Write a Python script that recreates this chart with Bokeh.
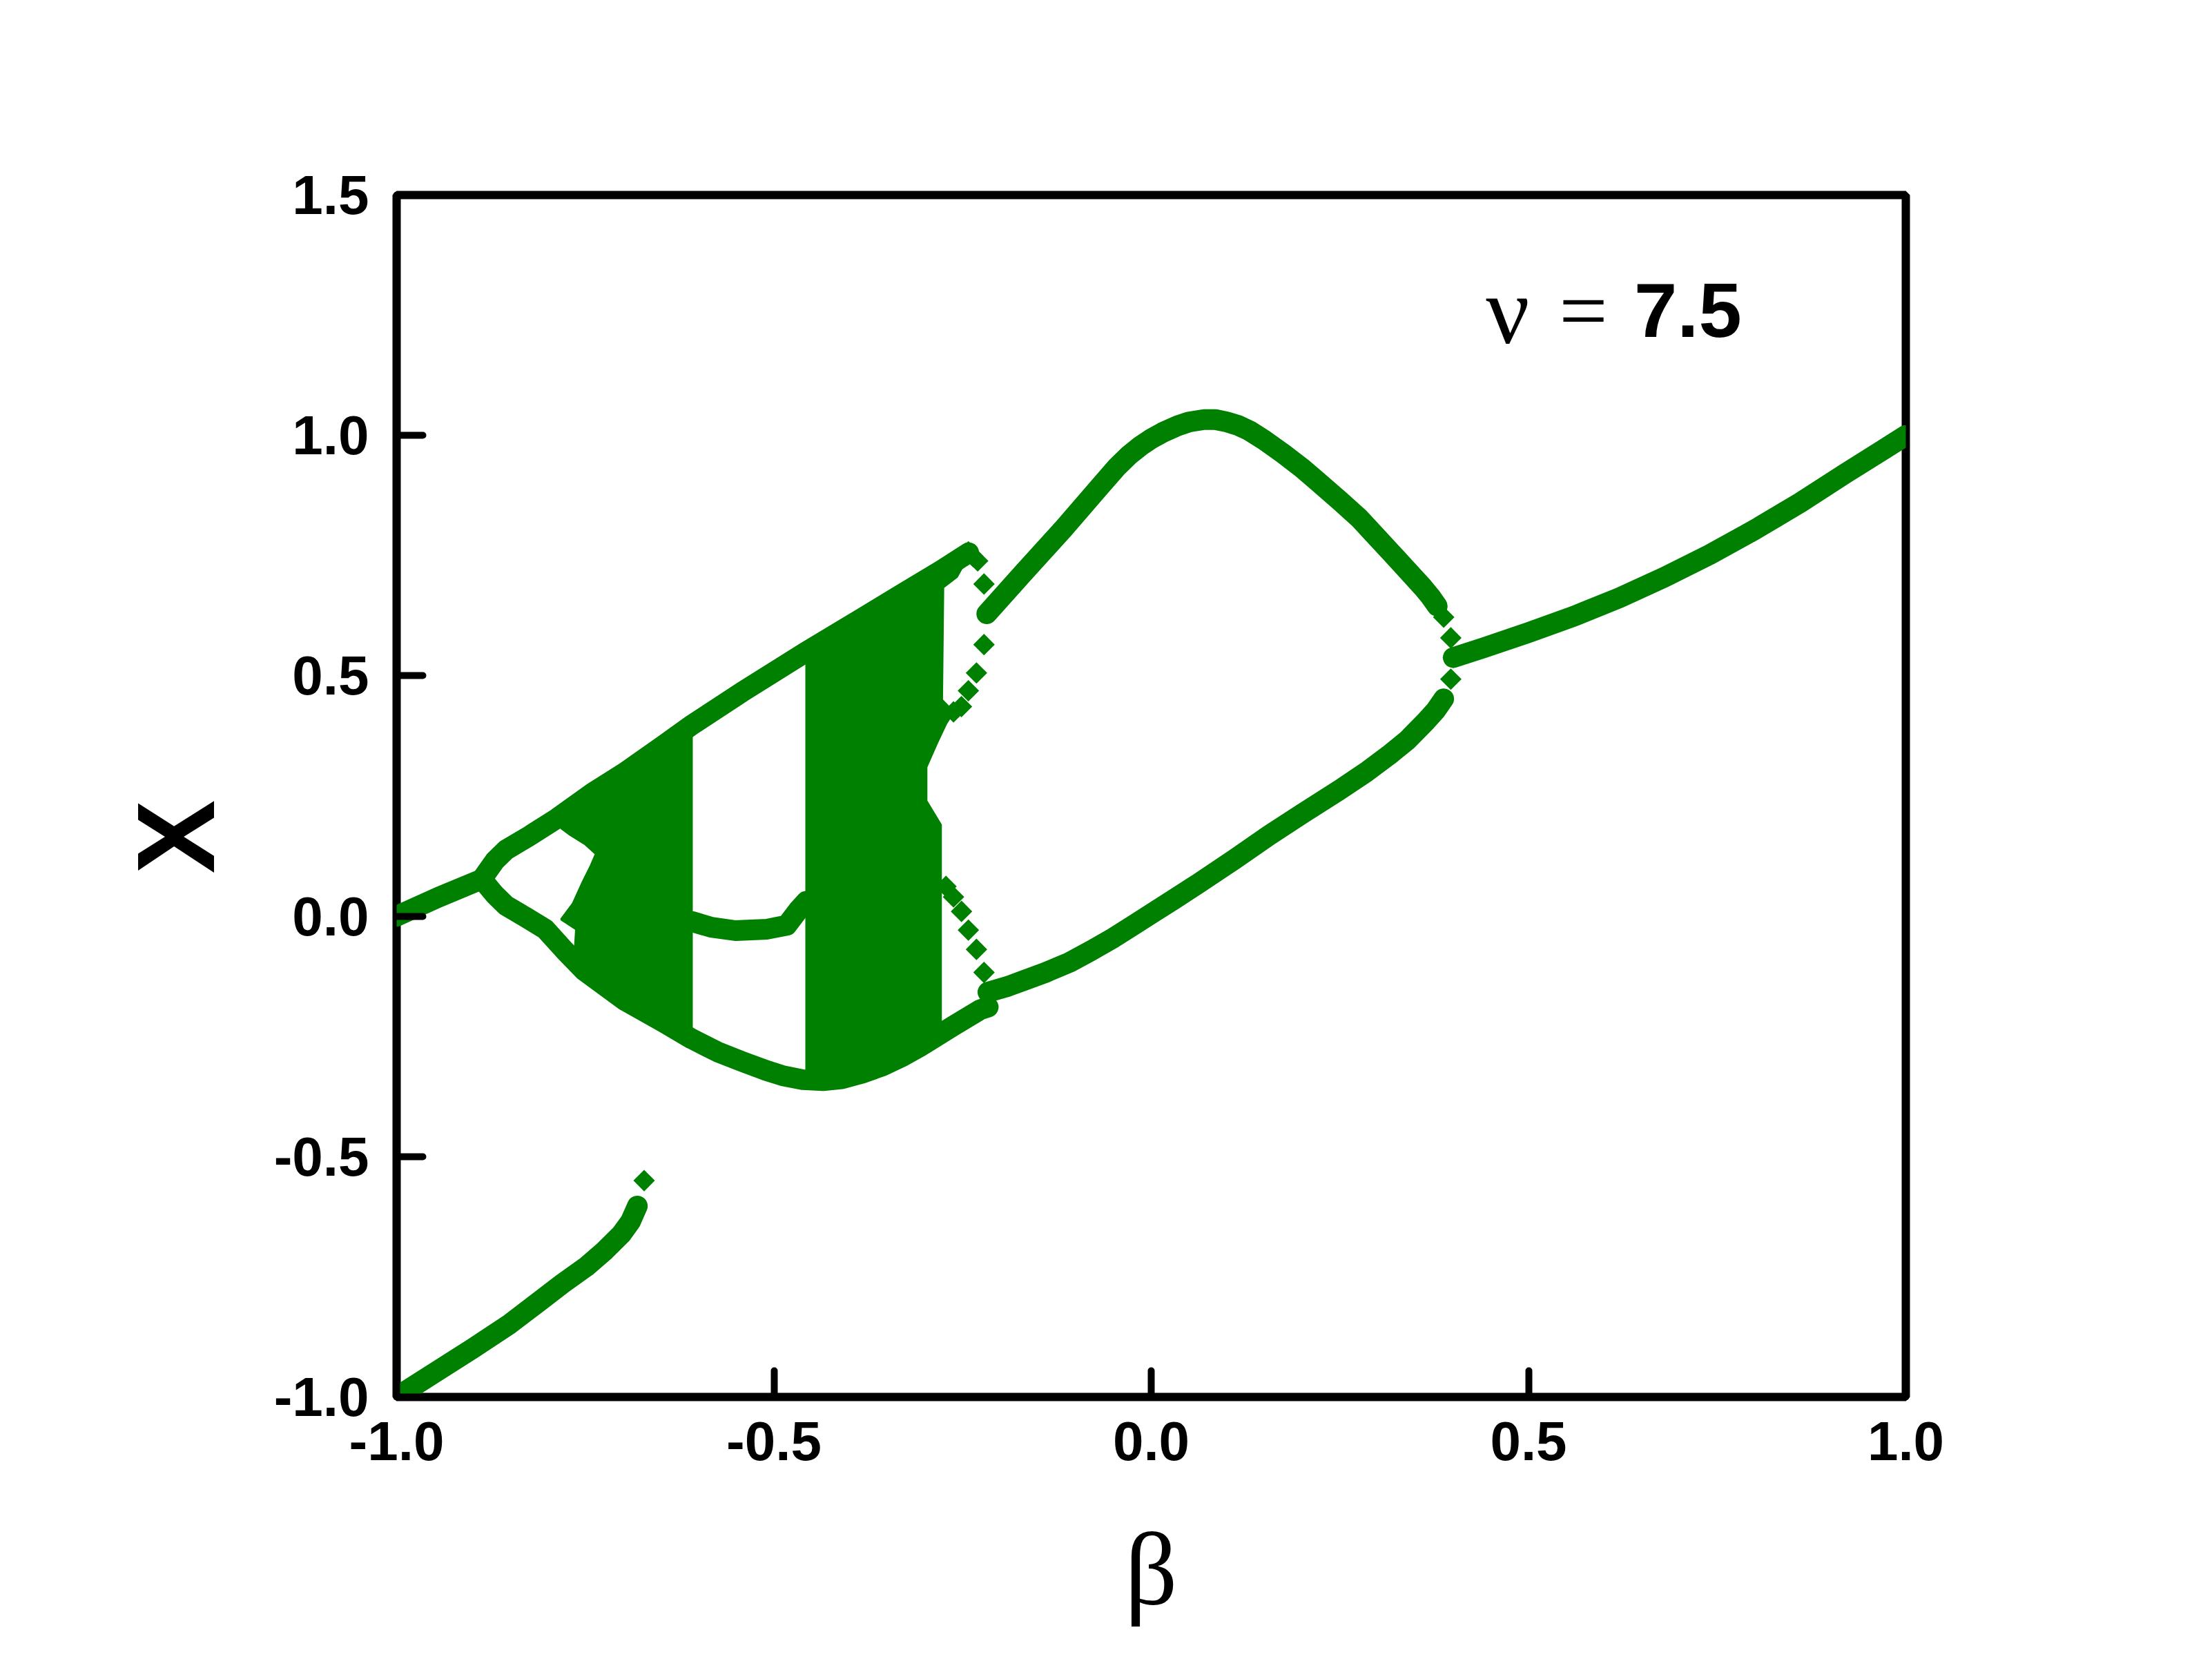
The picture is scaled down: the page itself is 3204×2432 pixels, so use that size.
import numpy as np
from bokeh.plotting import figure
from bokeh.models import Range1d, FixedTicker, NumeralTickFormatter, Label, Title
from bokeh.embed import file_html
from bokeh.resources import INLINE

GREEN = "#008000"

# ---------------- data ----------------
x_ticks = [-1.0, -0.5, 0.0, 0.5, 1.0]
y_ticks = [-1.0, -0.5, 0.0, 0.5, 1.0, 1.5]

# period-1 branch, left
p1_left_beta = [-1.0, -0.945, -0.887]
p1_left_x = [0.0, 0.039, 0.077]

# upper period-2 branch continuing as upper envelope of the chaotic band
upper_beta = [-0.887, -0.87, -0.855, -0.824, -0.787, -0.740, -0.698, -0.646, -0.609,
              -0.541, -0.457, -0.383, -0.331, -0.2785, -0.2418]
upper_x = [0.077, 0.115, 0.138, 0.167, 0.204, 0.257, 0.2985, 0.356, 0.3975,
           0.4675, 0.550, 0.620, 0.6695, 0.719, 0.756]

# lower period-2 branch continuing as lower envelope of the chaotic band
lower_beta = [-0.887, -0.87, -0.855, -0.829, -0.803, -0.777, -0.751, -0.698, -0.646,
              -0.609, -0.575, -0.541, -0.510, -0.488, -0.462, -0.435, -0.410, -0.384,
              -0.357, -0.330, -0.305, -0.263, -0.226, -0.216]
lower_x = [0.077, 0.045, 0.022, -0.002, -0.027, -0.072, -0.114, -0.175, -0.221,
           -0.255, -0.282, -0.303, -0.321, -0.332, -0.340, -0.342, -0.338, -0.327,
           -0.312, -0.292, -0.270, -0.229, -0.194, -0.189]

# middle branch inside the periodic window
mid_beta = [-0.609, -0.583, -0.551, -0.509, -0.483, -0.467, -0.457]
mid_x = [-0.011, -0.023, -0.030, -0.027, -0.019, 0.014, 0.031]

# chaotic band 1 (outline)
chaos1_beta = [-0.7768, -0.6089, -0.6089, -0.6719, -0.7191, -0.7610, -0.7637, -0.7621,
               -0.7820, -0.7663, -0.7532, -0.7427, -0.7359, -0.7506, -0.7715, -0.7820]
chaos1_x = [0.2037, 0.3851, -0.2554, -0.2043, -0.1548, -0.0971, -0.0683, -0.0271,
            -0.0065, 0.0265, 0.0718, 0.1048, 0.1296, 0.1502, 0.1708, 0.1831]

# chaotic band 2 (outline)
chaos2_beta = [-0.457, -0.383, -0.331, -0.2785, -0.2483, -0.2483, -0.2575, -0.2757, -0.2773,
               -0.262, -0.272, -0.284, -0.298, -0.298, -0.2788, -0.2788, -0.305, -0.357,
               -0.410, -0.457]
chaos2_x = [0.550, 0.620, 0.6695, 0.719, 0.745, 0.732, 0.706, 0.684, 0.45,
            0.425, 0.40, 0.36, 0.31, 0.24, 0.19, -0.244, -0.270, -0.312,
            -0.338, -0.340]

# isolated points (period-doubling cascade exits, junctions)
iso_beta = [-0.2423, -0.236, -0.230, -0.2216, -0.2216, -0.2316, -0.2423, -0.2515, -0.262,
            -0.272, -0.262, -0.2514, -0.2423, -0.2316, -0.2216,
            0.3876, 0.397, 0.4003, 0.397, -0.672]
iso_x = [0.758, 0.748, 0.739, 0.691, 0.565, 0.506, 0.469, 0.436, 0.425,
         0.062, 0.040, 0.010, -0.029, -0.069, -0.117,
         0.622, 0.579, 0.538, 0.493, -0.550]

# big upper arc (period-2 after the chaos)
arc_up_beta = [-0.2179, -0.17, -0.1174, -0.07, -0.045, -0.03, -0.015, 0.0, 0.015, 0.035,
               0.05, 0.07, 0.085, 0.10, 0.115, 0.13, 0.15, 0.175, 0.20, 0.22, 0.25,
               0.2755, 0.295, 0.318, 0.335, 0.3486, 0.36, 0.370, 0.379]
arc_up_x = [0.629, 0.713, 0.804, 0.890, 0.935, 0.958, 0.977, 0.993, 1.006, 1.020,
            1.028, 1.033, 1.033, 1.028, 1.021, 1.010, 0.990, 0.962, 0.932, 0.905, 0.864,
            0.828, 0.795, 0.756, 0.727, 0.7035, 0.684, 0.665, 0.645]

# big lower arc
arc_lo_beta = [-0.2164, -0.19, -0.1692, -0.14, -0.1083, -0.08, -0.05, -0.025, 0.0, 0.03,
               0.0625, 0.11, 0.156, 0.20, 0.249, 0.285, 0.315, 0.34, 0.3638, 0.377, 0.3876]
arc_lo_x = [-0.158, -0.146, -0.134, -0.117, -0.096, -0.072, -0.045, -0.020, 0.005, 0.035,
            0.068, 0.118, 0.168, 0.213, 0.262, 0.300, 0.335, 0.367, 0.405, 0.428, 0.452]

# period-1 branch, right
p1_right_beta = [0.4003, 0.44, 0.50, 0.56, 0.62, 0.68, 0.74, 0.80, 0.86, 0.92, 0.97, 1.0]
p1_right_x = [0.538, 0.558, 0.590, 0.624, 0.662, 0.705, 0.752, 0.804, 0.860, 0.921, 0.970, 1.0]

# isolated branch, bottom left
low_beta = [-1.0, -0.95, -0.90, -0.85, -0.809, -0.78, -0.748, -0.725, -0.702, -0.69, -0.681]
low_x = [-1.0, -0.95, -0.90, -0.848, -0.799, -0.764, -0.728, -0.697, -0.661, -0.635, -0.603]

# ---------------- figure ----------------
p = figure(width=3188, height=2416, output_backend="svg", toolbar_location=None,
           x_range=Range1d(-1, 1), y_range=Range1d(-1, 1.5),
           min_border_left=574, min_border_right=428,
           min_border_top=282, min_border_bottom=393)
p.grid.visible = False
p.background_fill_color = "white"
p.border_fill_color = "white"
p.outline_line_color = "black"
p.outline_line_width = 12

p.xaxis.ticker = FixedTicker(ticks=x_ticks)
p.yaxis.ticker = FixedTicker(ticks=y_ticks)
for ax in (p.xaxis[0], p.yaxis[0]):
    ax.axis_line_color = None
    ax.major_tick_in = 38
    ax.major_tick_out = 0
    ax.minor_tick_in = 0
    ax.minor_tick_out = 0
    ax.major_tick_line_width = 10
    ax.major_tick_line_color = "black"
    ax.major_tick_line_cap = "round"
    ax.major_label_text_font = "Liberation Sans"
    ax.major_label_text_font_style = "bold"
    ax.major_label_text_font_size = "80px"
    ax.major_label_text_color = "black"
    ax.formatter = NumeralTickFormatter(format="0.0")
p.yaxis[0].major_label_standoff = 40
p.xaxis[0].major_label_standoff = 36

# y-axis title, as a side title so that it can be shifted along the axis
y_title = Title(text="X", align="left", offset=758, standoff=100,
                text_font="Liberation Sans", text_font_style="bold",
                text_font_size="160px", text_color="black")
p.add_layout(y_title, "left")

p.xaxis[0].axis_label = "β"
p.xaxis[0].axis_label_text_font = "Liberation Serif"
p.xaxis[0].axis_label_text_font_style = "normal"
p.xaxis[0].axis_label_text_font_size = "150px"
p.xaxis[0].axis_label_text_color = "black"
p.xaxis[0].axis_label_standoff = 72

# chaotic bands
p.patch(chaos1_beta, chaos1_x, fill_color=GREEN, line_color=GREEN, line_width=3)
p.patch(chaos2_beta, chaos2_x, fill_color=GREEN, line_color=GREEN, line_width=3)

LW = 30
for bx, by in [(p1_left_beta, p1_left_x), (upper_beta, upper_x), (lower_beta, lower_x),
               (mid_beta, mid_x), (arc_up_beta, arc_up_x), (arc_lo_beta, arc_lo_x),
               (p1_right_beta, p1_right_x), (low_beta, low_x)]:
    p.line(bx, by, line_color=GREEN, line_width=LW, line_join="round", line_cap="round")

p.scatter(iso_beta, iso_x, marker="square", angle=np.pi / 4, size=22,
          fill_color=GREEN, line_color=None)

# annotation  ν = 7.5
p.add_layout(Label(x=0.4436, y=1.26, text="ν", text_font="Liberation Serif",
                   text_font_size="140px", text_align="left",
                   text_baseline="alphabetic", text_color="black"))
p.add_layout(Label(x=0.5404, y=1.26, text="=", text_font="Liberation Serif",
                   text_font_size="125px", text_align="left",
                   text_baseline="alphabetic", text_color="black"))
p.add_layout(Label(x=0.640, y=1.26, text="7.5", text_font="Liberation Sans",
                   text_font_style="bold", text_font_size="112px", text_align="left",
                   text_baseline="alphabetic", text_color="black"))

open("out.html", "w").write(file_html(p, INLINE))
